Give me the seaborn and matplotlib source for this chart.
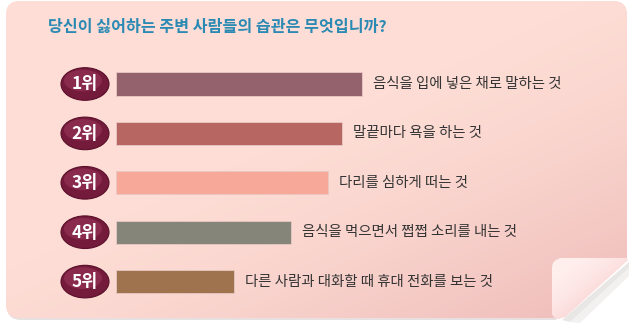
import numpy as np
import pandas as pd
import matplotlib
matplotlib.use("Agg")
import matplotlib.pyplot as plt
import seaborn as sns
from matplotlib.patches import FancyBboxPatch, Ellipse, Polygon

# ---- data ----
title = "당신이 싫어하는 주변 사람들의 습관은 무엇입니까?"
ranks = ["1위", "2위", "3위", "4위", "5위"]
habits = [
    "음식을 입에 넣은 채로 말하는 것",
    "말끝마다 욕을 하는 것",
    "다리를 심하게 떠는 것",
    "음식을 먹으면서 쩝쩝 소리를 내는 것",
    "다른 사람과 대화할 때 휴대 전화를 보는 것",
]
bar_lengths = [246, 226, 212, 175, 118]
bar_colors = ["#93626c", "#b76662", "#f8a898", "#86857a", "#9f734e"]

df = pd.DataFrame({"rank": ranks, "habit": habits, "value": bar_lengths})

sns.set_theme(style="white")
plt.rcParams["font.family"] = ["Noto Sans CJK KR", "DejaVu Sans"]

W, H = 629, 323
fig = plt.figure(figsize=(W / 100, H / 100), dpi=100)
fig.patch.set_facecolor("white")

# ---- background card ----
bg = fig.add_axes([0, 0, 1, 1])
bg.set_xlim(0, W)
bg.set_ylim(H, 0)
bg.axis("off")

shadow = FancyBboxPatch((7, 3), 619, 317, boxstyle="round,pad=0,rounding_size=14",
                        facecolor="#e6e0e0", edgecolor="none", zorder=0)
bg.add_patch(shadow)
card = FancyBboxPatch((6, 1), 621, 317, boxstyle="round,pad=0,rounding_size=14",
                      facecolor="#fddcd5", edgecolor="none", zorder=1)
bg.add_patch(card)

gx = np.linspace(0, 1, W)
gy = np.linspace(0, 1, H)
GX, GY = np.meshgrid(gx, gy)
t = np.clip((GX * 0.9 + GY * 1.0 - 0.85) / 1.05, 0, 1) ** 1.4
c0 = np.array([253, 221, 213]) / 255
c1 = np.array([238, 186, 184]) / 255
img = c0[None, None, :] * (1 - t[..., None]) + c1[None, None, :] * t[..., None]
im = bg.imshow(img, extent=(0, W, H, 0), zorder=2, aspect="auto")
im.set_clip_path(card)

# page curl
bg.add_patch(Polygon([(552, 323), (629, 258), (629, 323)], closed=True,
                     facecolor="white", edgecolor="none", zorder=3))
bg.add_patch(Polygon([(562, 320), (629, 262), (629, 268), (570, 322)], closed=True,
                     facecolor="#d8d2d2", edgecolor="none", alpha=0.55, zorder=3))
bg.add_patch(Polygon([(570, 322), (629, 268), (629, 276), (580, 323)], closed=True,
                     facecolor="#ebe7e7", edgecolor="none", alpha=0.6, zorder=3))
flap_pts = [(552, 314), (552, 268), (553, 263), (556, 260), (561, 258), (626, 258),
            (628, 260), (565, 317), (558, 319), (554, 317)]
flap = Polygon(flap_pts, closed=True, facecolor="#fde6e3", edgecolor="none", zorder=4)
bg.add_patch(flap)
fx = (GX * W - 552) / 77
fy = (GY * H - 258) / 61
ft = np.clip((fx + fy) / 1.6, 0, 1) ** 2.2
f0 = np.array([255, 240, 238]) / 255
f1 = np.array([246, 196, 196]) / 255
fimg = f0[None, None, :] * (1 - ft[..., None]) + f1[None, None, :] * ft[..., None]
fim = bg.imshow(fimg, extent=(0, W, H, 0), zorder=5, aspect="auto")
fim.set_clip_path(flap)

bg.text(48, 27, title, color="#2b8ab3", fontsize=11.6, fontweight="bold",
        va="center", ha="left", zorder=6)

# ---- bars ----
x0 = 116
top_c, step = 84, 49.4
ax_top = top_c - step / 2
ax_bot = top_c + 4 * step + step / 2
ax = fig.add_axes([x0 / W, (H - ax_bot) / H, (W - x0) / W, (ax_bot - ax_top) / H])
ax.patch.set_alpha(0)
sns.barplot(data=df, x="value", y="rank", hue="rank", palette=bar_colors,
            legend=False, orient="h", width=0.47, ax=ax, saturation=1,
            edgecolor="#e8c8c4", linewidth=0.6)
ax.set_xlim(0, W - x0)
ax.set_ylim(4.5, -0.5)
ax.axis("off")

for i, (r, h, v) in enumerate(zip(ranks, habits, bar_lengths)):
    ax.add_patch(Ellipse((-31, i), 48, 0.66, facecolor="#741a3a", edgecolor="#5a0f2a",
                         linewidth=0.8, clip_on=False, zorder=5))
    ax.add_patch(Ellipse((-33, i - 0.07), 38, 0.44, facecolor="#a03a5e", edgecolor="none",
                         alpha=0.5, clip_on=False, zorder=6))
    ax.text(-31, i + 0.01, r, color="white", fontsize=12.5, fontweight="bold",
            ha="center", va="center", zorder=7, clip_on=False)
    ax.text(v + 11, i, h, color="#333333", fontsize=10.4, ha="left", va="center")

fig.savefig("out.png", dpi=100, facecolor="white")
